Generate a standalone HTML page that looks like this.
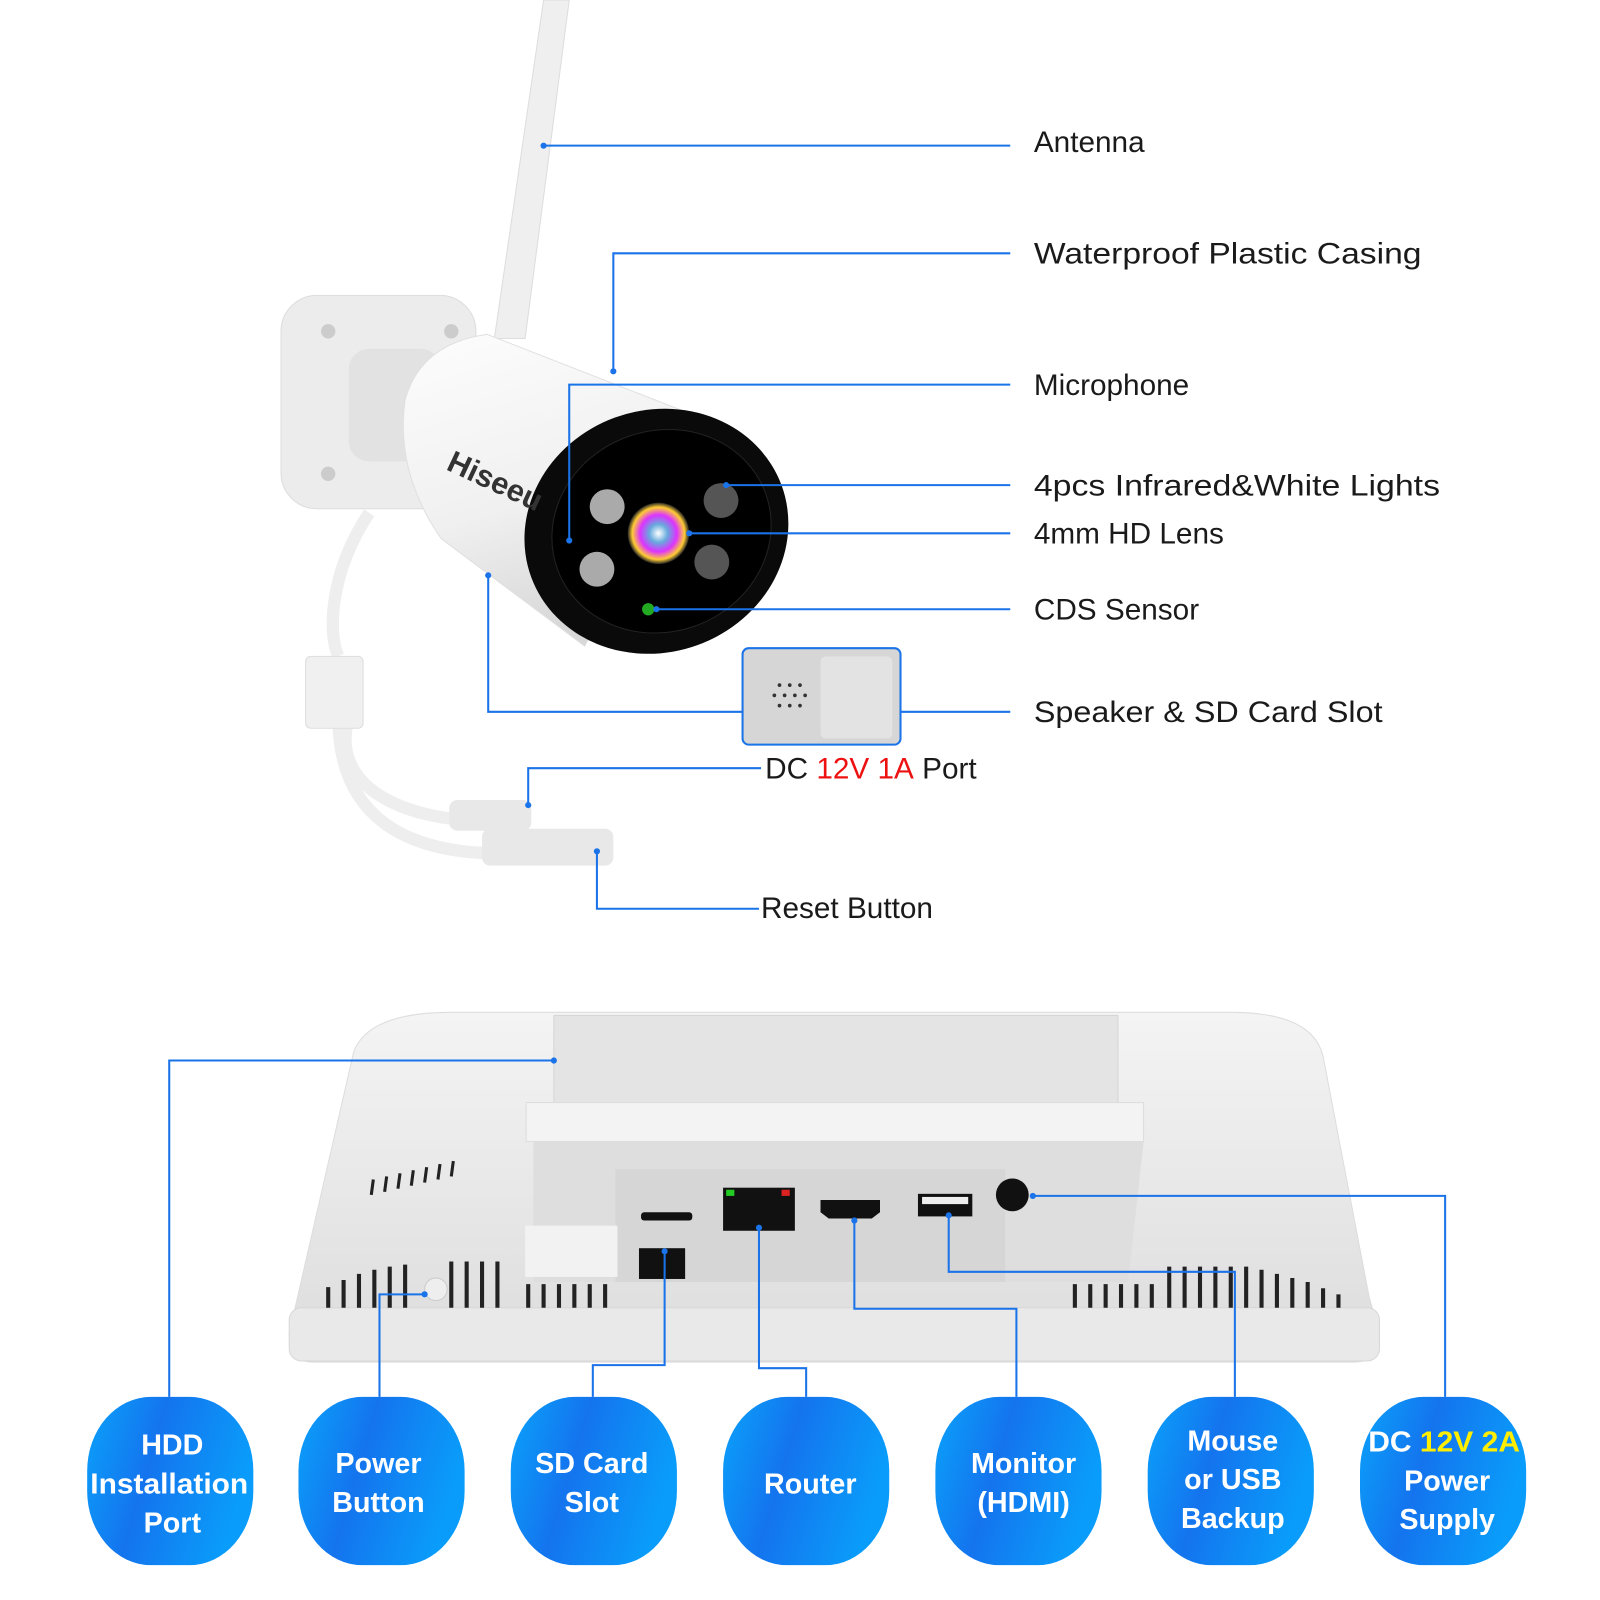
<!DOCTYPE html>
<html><head><meta charset="utf-8"><style>
html,body{margin:0;padding:0;background:#fff;}
svg{display:block}
text{font-family:"Liberation Sans",sans-serif;}
</style></head><body>
<svg width="1600" height="1600" viewBox="0 0 1560 1560" xmlns="http://www.w3.org/2000/svg">
<defs>
<linearGradient id="pill" x1="0" y1="0" x2="1" y2="0.3">
<stop offset="0" stop-color="#0aa2fb"/><stop offset="0.45" stop-color="#1474ee"/><stop offset="1" stop-color="#0a9cfa"/></linearGradient>
<linearGradient id="body" x1="0" y1="0" x2="0" y2="1"><stop offset="0" stop-color="#f4f4f4"/><stop offset="1" stop-color="#dcdcdc"/></linearGradient>
<linearGradient id="cyl" x1="0" y1="0" x2="0.3" y2="1"><stop offset="0" stop-color="#fdfdfd"/><stop offset="0.6" stop-color="#f0f0f0"/><stop offset="1" stop-color="#d8d8d8"/></linearGradient>
<radialGradient id="lens" cx="0.5" cy="0.5" r="0.5"><stop offset="0" stop-color="#fff"/><stop offset="0.3" stop-color="#6ad"/><stop offset="0.6" stop-color="#d3f"/><stop offset="0.85" stop-color="#fc3"/><stop offset="1" stop-color="#222"/></radialGradient>
</defs>

<!-- camera -->
<polygon points="530,0 555,0 512,330 482,330" fill="#efefef" stroke="#ddd"/>
<rect x="274" y="288" width="190" height="208" rx="35" fill="#ececec" stroke="#ddd"/>
<circle cx="320" cy="323" r="7" fill="#ccc"/><circle cx="440" cy="323" r="7" fill="#ccc"/>
<circle cx="320" cy="462" r="7" fill="#ccc"/><circle cx="440" cy="462" r="7" fill="#ccc"/>
<rect x="340" y="340" width="90" height="110" rx="20" fill="#e2e2e2"/>
<path d="M395,390 Q410,335 475,326 L690,410 L570,630 L430,525 Q385,460 395,390 Z" fill="url(#cyl)" stroke="#e0e0e0"/>
<ellipse cx="640" cy="518" rx="130" ry="118" transform="rotate(-20 640 518)" fill="#0a0a0a"/>
<ellipse cx="645" cy="518" rx="108" ry="98" transform="rotate(-20 645 518)" fill="#000" stroke="#222"/>
<text x="425" y="462" font-size="30" font-weight="bold" fill="#333" transform="rotate(25 440 480)">Hiseeu</text>
<circle cx="592" cy="494" r="17" fill="#aaa"/><circle cx="582" cy="555" r="17" fill="#aaa"/>
<circle cx="703" cy="488" r="17" fill="#555"/><circle cx="694" cy="548" r="17" fill="#555"/>
<circle cx="642" cy="520" r="30" fill="url(#lens)"/>
<circle cx="632" cy="594" r="6" fill="#2a2"/>
<path d="M360,500 C320,560 320,620 330,640 M340,700 C320,770 400,800 470,800 M330,700 C330,800 400,830 480,832" stroke="#eee" stroke-width="12" fill="none"/>
<rect x="298" y="640" width="56" height="70" rx="5" fill="#f0f0f0" stroke="#ddd"/>
<rect x="438" y="780" width="80" height="30" rx="8" fill="#e8e8e8"/>
<rect x="470" y="808" width="128" height="36" rx="8" fill="#e8e8e8"/>
<!-- speaker box -->
<rect x="724" y="632" width="154" height="94" rx="6" fill="#d6d6d6" stroke="#1a73e8" stroke-width="2"/>
<rect x="800" y="640" width="70" height="80" rx="5" fill="#e3e3e3"/>
<g fill="#333"><circle cx="760" cy="668" r="1.8"/><circle cx="770" cy="668" r="1.8"/><circle cx="780" cy="668" r="1.8"/><circle cx="755" cy="678" r="1.8"/><circle cx="765" cy="678" r="1.8"/><circle cx="775" cy="678" r="1.8"/><circle cx="785" cy="678" r="1.8"/><circle cx="760" cy="688" r="1.8"/><circle cx="770" cy="688" r="1.8"/><circle cx="780" cy="688" r="1.8"/></g>

<!-- camera connectors -->
<g stroke="#1a73e8" stroke-width="2" fill="none">
<path d="M530,142 H985"/><path d="M598,362 V247 H985"/><path d="M555,527 V375 H985"/>
<path d="M708,473 H985"/><path d="M672,520 H985"/><path d="M640,594 H985"/>
<path d="M476,561 V694 H724"/><path d="M878,694 H985"/>
<path d="M515,785 V749 H742"/><path d="M582,830 V886 H740"/>
</g>
<g fill="#1a73e8"><circle cx="530" cy="142" r="3"/><circle cx="598" cy="362" r="3"/><circle cx="555" cy="527" r="3"/><circle cx="708" cy="473" r="3"/><circle cx="672" cy="520" r="3"/><circle cx="640" cy="594" r="3"/><circle cx="476" cy="561" r="3"/><circle cx="515" cy="785" r="3"/><circle cx="582" cy="830" r="3"/></g>
<g font-size="29" fill="#1a1a1a">
<text x="1008" y="148">Antenna</text>
<text x="1008" y="257" textLength="378" lengthAdjust="spacingAndGlyphs">Waterproof Plastic Casing</text>
<text x="1008" y="385">Microphone</text>
<text x="1008" y="483" textLength="396" lengthAdjust="spacingAndGlyphs">4pcs Infrared&amp;White Lights</text>
<text x="1008" y="530">4mm HD Lens</text>
<text x="1008" y="604">CDS Sensor</text>
<text x="1008" y="704" textLength="340" lengthAdjust="spacingAndGlyphs">Speaker &amp; SD Card Slot</text>
<text x="746" y="759">DC <tspan fill="#ee1111">12V 1A</tspan> Port</text>
<text x="742" y="895">Reset Button</text>
</g>

<!-- monitor -->
<path d="M345,1025 Q360,987 440,987 H1200 Q1280,987 1290,1030 L1335,1265 L1345,1300 Q1345,1328 1320,1328 H305 Q282,1328 282,1300 L290,1265 Z" fill="url(#body)" stroke="#ddd"/>
<rect x="540" y="990" width="550" height="90" fill="#e4e4e4" stroke="#d5d5d5"/>
<rect x="513" y="1075" width="602" height="38" fill="#f3f3f3" stroke="#ddd"/>
<path d="M520,1113 H1115 L1100,1250 H520 Z" fill="#dedede"/>
<rect x="600" y="1140" width="380" height="110" fill="#d6d6d6"/>
<rect x="512" y="1195" width="90" height="50" fill="#f2f2f2"/>
<rect x="282" y="1275" width="1063" height="52" rx="12" fill="#e9e9e9" stroke="#d8d8d8"/>
<rect x="625" y="1182" width="50" height="8" rx="3" fill="#111"/>
<rect x="623" y="1217" width="45" height="30" fill="#111"/>
<rect x="705" y="1158" width="70" height="42" fill="#111"/>
<rect x="708" y="1160" width="8" height="6" fill="#2c2"/><rect x="762" y="1160" width="8" height="6" fill="#d22"/>
<path d="M800,1170 H858 V1182 L850,1188 H808 L800,1182 Z" fill="#111"/>
<rect x="895" y="1164" width="53" height="22" fill="#111"/><rect x="899" y="1167" width="45" height="7" fill="#eee"/>
<circle cx="987" cy="1165" r="16" fill="#111"/>
<g stroke="#222" stroke-width="4">
<path d="M320,1275 V1255 M335,1275 V1248 M350,1275 V1242 M365,1275 V1238 M380,1275 V1235 M395,1275 V1233 M440,1275 V1230 M455,1275 V1230 M470,1275 V1230 M485,1275 V1230 M515,1275 V1252 M530,1275 V1252 M545,1275 V1252 M560,1275 V1252 M575,1275 V1252 M590,1275 V1252"/>
<path d="M1048,1275 V1252 M1063,1275 V1252 M1078,1275 V1252 M1093,1275 V1252 M1108,1275 V1252 M1123,1275 V1252 M1140,1275 V1235 M1155,1275 V1235 M1170,1275 V1235 M1185,1275 V1235 M1200,1275 V1235 M1215,1275 V1235 M1230,1275 V1238 M1245,1275 V1242 M1260,1275 V1246 M1275,1275 V1250 M1290,1275 V1256 M1305,1275 V1262"/>
<path d="M362,1165 L364,1150 M375,1162 L377,1147 M388,1159 L390,1144 M401,1156 L403,1141 M414,1153 L416,1138 M427,1150 L429,1135 M440,1147 L442,1132" stroke-width="3"/>
</g>
<circle cx="425" cy="1257" r="11" fill="#eee" stroke="#ccc"/>

<!-- monitor connectors -->
<g stroke="#1a73e8" stroke-width="2" fill="none">
<path d="M540,1034 H165 V1362"/><path d="M414,1262 H370 V1362"/>
<path d="M648,1220 V1331 H578 V1362"/><path d="M740,1197 V1334 H786 V1362"/>
<path d="M833,1190 V1276 H991 V1362"/><path d="M925,1185 V1240 H1204 V1362"/>
<path d="M1007,1166 H1409 V1362"/>
</g>
<g fill="#1a73e8"><circle cx="540" cy="1034" r="3"/><circle cx="414" cy="1262" r="3"/><circle cx="648" cy="1220" r="3"/><circle cx="740" cy="1197" r="3"/><circle cx="833" cy="1190" r="3"/><circle cx="925" cy="1185" r="3"/><circle cx="1007" cy="1166" r="3"/></g>

<!-- pills -->
<g fill="url(#pill)">
<rect x="85" y="1362" width="162" height="164" rx="62" ry="72"/>
<rect x="291" y="1362" width="162" height="164" rx="62" ry="72"/>
<rect x="498" y="1362" width="162" height="164" rx="62" ry="72"/>
<rect x="705" y="1362" width="162" height="164" rx="62" ry="72"/>
<rect x="912" y="1362" width="162" height="164" rx="62" ry="72"/>
<rect x="1119" y="1362" width="162" height="164" rx="62" ry="72"/>
<rect x="1326" y="1362" width="162" height="164" rx="62" ry="72"/>
</g>
<g font-size="28" font-weight="bold" fill="#fff" text-anchor="middle">
<text x="168" y="1418">HDD</text><text x="165" y="1456" textLength="154" lengthAdjust="spacingAndGlyphs">Installation</text><text x="168" y="1494">Port</text>
<text x="369" y="1436">Power</text><text x="369" y="1474">Button</text>
<text x="577" y="1436">SD Card</text><text x="577" y="1474">Slot</text>
<text x="790" y="1456">Router</text>
<text x="998" y="1436">Monitor</text><text x="998" y="1474">(HDMI)</text>
<text x="1202" y="1414">Mouse</text><text x="1202" y="1452">or USB</text><text x="1202" y="1490">Backup</text>
<text x="1408" y="1415" textLength="148" lengthAdjust="spacingAndGlyphs">DC <tspan fill="#ffee00">12V 2A</tspan></text><text x="1411" y="1453">Power</text><text x="1411" y="1491">Supply</text>
</g>
</svg>
</body></html>
